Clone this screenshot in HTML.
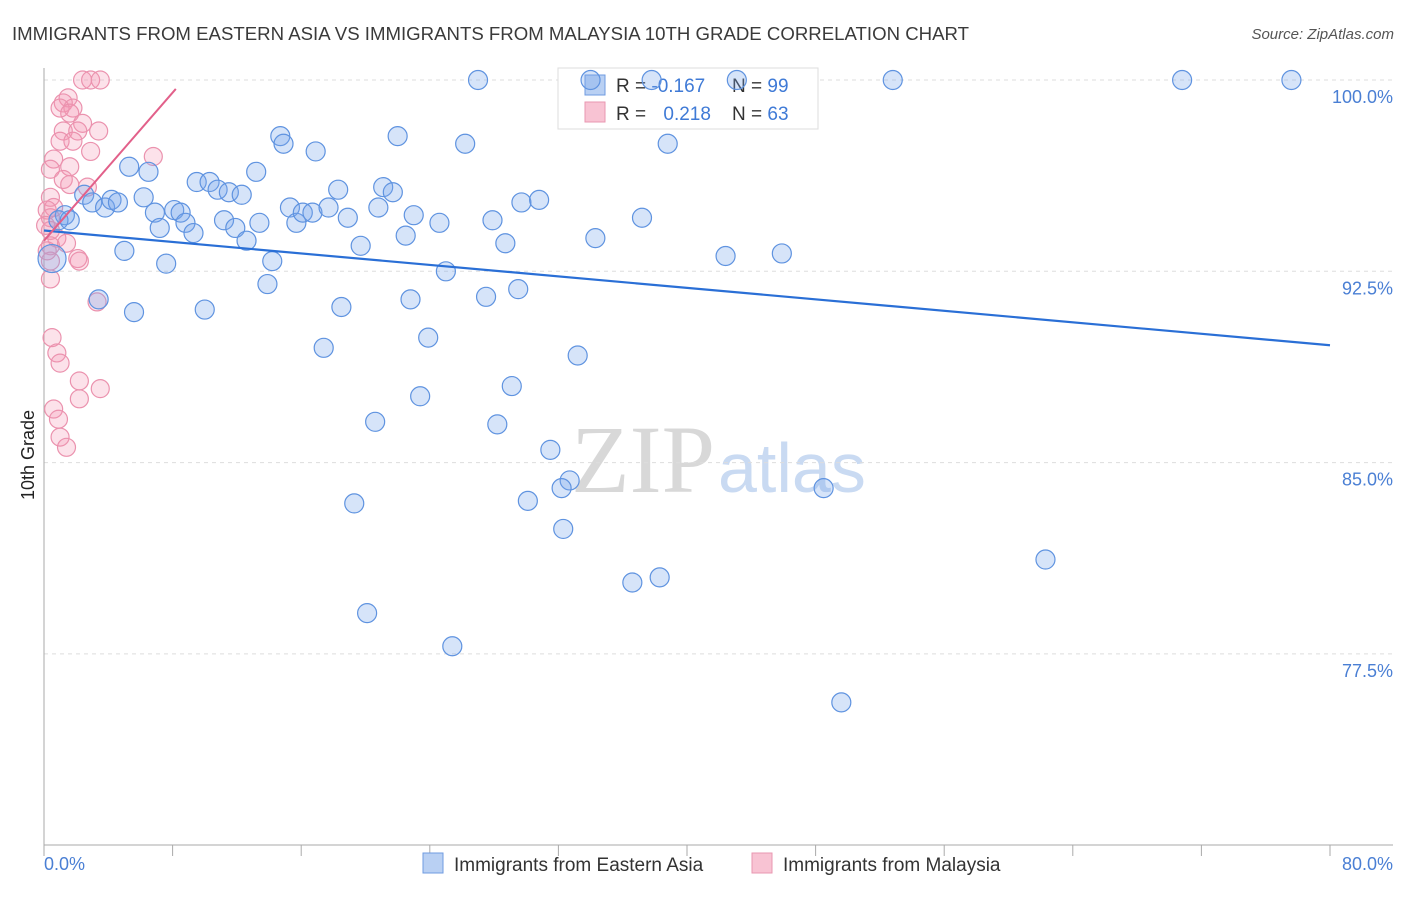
<!DOCTYPE html>
<html><head><meta charset="utf-8"><style>
body{margin:0;background:#fff;font-family:"Liberation Sans",sans-serif}
svg text{font-family:"Liberation Sans",sans-serif}
</style></head><body>
<svg id="c" width="1406" height="892">
<text x="12" y="40" font-size="18" fill="#3a3a3a" textLength="957" lengthAdjust="spacingAndGlyphs">IMMIGRANTS FROM EASTERN ASIA VS IMMIGRANTS FROM MALAYSIA 10TH GRADE CORRELATION CHART</text>
<text x="1394" y="39" font-size="15" fill="#555" text-anchor="end" font-style="italic">Source: ZipAtlas.com</text>
<text x="715" y="492" font-size="96" fill="#d8d8d8" text-anchor="end" style="font-family:'Liberation Serif',serif">ZIP</text>
<text x="718" y="492" font-size="70" fill="#c9daf2">atlas</text>
<g id="grid"></g><g id="axes"></g>
<g>
<rect x="558" y="68" width="260" height="61" fill="#fff" stroke="#ddd"/>
<rect x="585" y="75" width="20" height="20" fill="#b9d0f3" stroke="#6f9be0"/>
<rect x="585" y="102" width="20" height="20" fill="#f8c3d3" stroke="#e997b0"/>
<text x="616" y="92" font-size="19" fill="#333">R = <tspan fill="#3f7ad6">-0.167</tspan></text>
<text x="732" y="92" font-size="19" fill="#333">N = <tspan fill="#3f7ad6">99</tspan></text>
<text x="616" y="120" font-size="19" fill="#333">R = <tspan fill="#3f7ad6" dx="12">0.218</tspan></text>
<text x="732" y="120" font-size="19" fill="#333">N = <tspan fill="#3f7ad6">63</tspan></text>
</g>
<g id="pts"></g><g id="trend"></g>
<text transform="translate(34,455) rotate(-90)" font-size="18" fill="#222" text-anchor="middle">10th Grade</text>
<g>
<rect x="423" y="853" width="20" height="20" fill="#b9d0f3" stroke="#6f9be0"/>
<text x="454" y="871" font-size="19" fill="#333">Immigrants from Eastern Asia</text>
<rect x="752" y="853" width="20" height="20" fill="#f8c3d3" stroke="#e997b0"/>
<text x="783" y="871" font-size="19" fill="#333">Immigrants from Malaysia</text>
</g>
</svg>
<script>
const xTickVals=[0,8,16,24,32,40,48,56,64,72,80];
const yTickVals=[100,92.5,85,77.5];
const yTickLabels=["100.0%","92.5%","85.0%","77.5%"];
const blueX=[27.0,34.0,37.8,43.1,52.8,70.8,77.6,14.7,14.9,22.0,16.9,26.2,38.8,5.3,6.5,13.2,9.5,10.3,10.8,11.5,12.3,6.2,2.5,3.0,3.8,4.2,4.6,1.3,0.9,1.6,6.9,8.1,8.5,7.2,8.8,9.3,11.2,11.9,12.6,13.4,15.3,15.7,16.1,16.7,17.7,18.3,18.9,20.8,21.1,21.7,23.0,24.6,27.9,29.7,30.8,22.5,19.7,28.7,34.3,37.2,5.0,7.6,14.2,42.4,45.9,25.0,13.9,29.5,27.5,3.4,22.8,5.6,10.0,18.5,23.9,17.4,33.2,29.1,23.4,20.6,28.2,31.5,32.7,32.2,48.5,30.1,19.3,32.3,62.3,36.6,38.3,20.1,25.4,49.6,0.5];
const blueY=[100,100,100,100,100,100,100,97.8,97.5,97.8,97.2,97.5,97.5,96.6,96.4,96.4,96.0,96.0,95.7,95.6,95.5,95.4,95.5,95.2,95.0,95.3,95.2,94.7,94.5,94.5,94.8,94.9,94.8,94.2,94.4,94.0,94.5,94.2,93.7,94.4,95.0,94.4,94.8,94.8,95.0,95.7,94.6,95.0,95.8,95.6,94.7,94.4,94.5,95.2,95.3,93.9,93.5,93.6,93.8,94.6,93.3,92.8,92.9,93.1,93.2,92.5,92.0,91.8,91.5,91.4,91.4,90.9,91.0,91.1,89.9,89.5,89.2,88.0,87.6,86.6,86.5,85.5,84.3,84.0,84.0,83.5,83.4,82.4,81.2,80.3,80.5,79.1,77.8,75.6,93.0];
const pinkX=[2.4,2.9,3.5,1.5,1.2,1.8,1.0,1.6,2.4,3.4,1.2,2.1,1.0,1.8,2.9,6.8,0.6,1.6,0.4,1.2,1.6,2.7,0.4,0.6,0.4,0.4,0.8,1.4,0.4,2.1,2.2,0.4,0.4,3.3,0.5,0.8,1.0,2.2,3.5,2.2,0.6,0.9,1.0,1.4,0.2,0.1,0.2];
const pinkY=[100,100,100,99.3,99.1,98.9,98.9,98.7,98.3,98.0,98.0,98.0,97.6,97.6,97.2,97.0,96.9,96.6,96.5,96.1,95.9,95.8,95.4,95.0,94.6,94.1,93.8,93.6,93.5,93.0,92.9,92.9,92.2,91.3,89.9,89.3,88.9,88.2,87.9,87.5,87.1,86.7,86.0,85.6,94.9,94.3,93.3];
const blueTrendX=[0,80], blueTrendY=[94.1,89.6];
const pinkTrendX=[0,8.2], pinkTrendY=[93.7,99.65];
const NS="http://www.w3.org/2000/svg";
const X=v=>44+v/80*1286, Y=v=>80+(100-v)/7.5*191.3;
function mk(t,a,p){const e=document.createElementNS(NS,t);for(const k in a)e.setAttribute(k,a[k]);p.appendChild(e);return e;}
const grid=document.getElementById('grid'),axes=document.getElementById('axes'),pts=document.getElementById('pts'),tr=document.getElementById('trend');
yTickVals.forEach((v,i)=>{
 const l=mk('line',{x1:44,x2:1393,y1:Y(v),y2:Y(v),stroke:'#ddd','stroke-dasharray':'4,4'},grid);
 
 
 const t=mk('text',{x:1393,y:Y(v)+23,'font-size':18,fill:'#4a7fd4','text-anchor':'end'},axes);
 t.textContent=yTickLabels[i];
 
 
});
const ya=mk('line',{x1:44,x2:44,y1:68,y2:845,stroke:'#aaa'},axes);


const xa=mk('line',{x1:44,x2:1393,y1:845,y2:845,stroke:'#aaa'},axes);


xTickVals.forEach(v=>{
 const t=mk('line',{x1:X(v),x2:X(v),y1:845,y2:856,stroke:'#aaa'},axes);
 
 
});
const x0=mk('text',{x:44,y:870,'font-size':18,fill:'#4a7fd4'},axes);x0.textContent='0.0%';


const x1=mk('text',{x:1393,y:870,'font-size':18,fill:'#4a7fd4','text-anchor':'end'},axes);x1.textContent='80.0%';


pinkX.forEach((v,i)=>{
 const c=mk('circle',{cx:X(v),cy:Y(pinkY[i]),r:9,fill:'rgba(244,150,180,0.28)',stroke:'#eb92ae','stroke-width':1.2},pts);
 
 
});
blueX.forEach((v,i)=>{
 const c=mk('circle',{cx:X(v),cy:Y(blueY[i]),r:(i==blueX.length-1?14:9.5),fill:'rgba(120,165,235,0.3)',stroke:'#5f93e0','stroke-width':1.2},pts);
 
 
});
const bl=mk('line',{x1:X(blueTrendX[0]),y1:Y(blueTrendY[0]),x2:X(blueTrendX[1]),y2:Y(blueTrendY[1]),stroke:'#2a6fd6','stroke-width':2.2},tr);


const pl=mk('line',{x1:X(pinkTrendX[0]),y1:Y(pinkTrendY[0]),x2:X(pinkTrendX[1]),y2:Y(pinkTrendY[1]),stroke:'#e2608a','stroke-width':2},tr);


</script>
</body></html>
